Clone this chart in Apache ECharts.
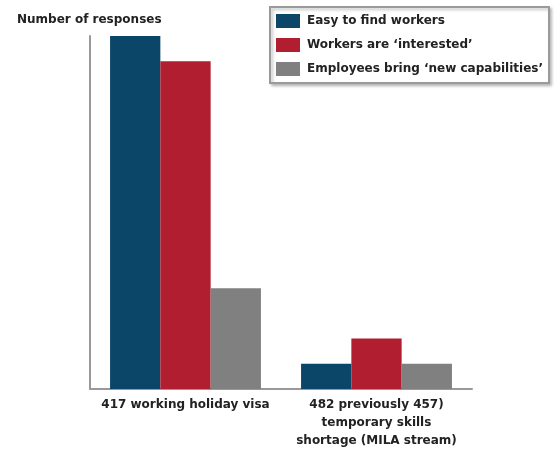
<!DOCTYPE html>
<html>
<head>
<meta charset="utf-8">
<script src="https://cdn.jsdelivr.net/npm/echarts@6/dist/echarts.min.js"></script>
<style>
  html, body { margin: 0; padding: 0; background: #fff; }
  #chart { width: 554px; height: 450px; }
</style>
</head>
<body>
<div id="chart"></div>
<script>
// Visa categories along the horizontal axis
const categories = [
  '417 working holiday visa',
  '482 previously 457)\ntemporary skills\nshortage (MILA stream)'
];
// Number of responses per reason
const easyToFind = [140, 10];
const interested = [130, 20];
const newCapabilities = [40, 10];

const seriesNames = [
  'Easy to find workers',
  'Workers are \u2018interested\u2019',
  'Employees bring \u2018new capabilities\u2019'
];

const FONT = '"DejaVu Sans", sans-serif';
const chart = echarts.init(document.getElementById('chart'), null, { renderer: 'canvas' });

chart.setOption({
  animation: false,
  backgroundColor: '#ffffff',
  title: {
    text: 'Number of responses',
    left: 12,
    top: 9,
    textStyle: { fontFamily: FONT, fontSize: 12, fontWeight: 'bold', color: '#222' }
  },
  legend: {
    orient: 'vertical',
    left: 270,
    top: 7,
    padding: [7, 6, 7, 6],
    itemWidth: 24,
    itemHeight: 14,
    itemGap: 10,
    borderColor: '#9a9a9a',
    borderWidth: 2,
    backgroundColor: '#fff',
    shadowColor: 'rgba(0,0,0,0.25)',
    shadowBlur: 3,
    shadowOffsetX: 2,
    shadowOffsetY: 2,
    icon: 'rect',
    textStyle: { fontFamily: FONT, fontSize: 12, fontWeight: 'bold', color: '#222', padding: [0, 0, 0, 2] },
    data: seriesNames
  },
  grid: { left: 90, right: 82, top: 36, bottom: 58 },
  xAxis: {
    type: 'category',
    data: categories,
    axisLine: { lineStyle: { color: '#999', width: 2 } },
    axisTick: { show: false },
    axisLabel: {
      interval: 0,
      margin: 7,
      lineHeight: 18,
      fontFamily: FONT,
      fontSize: 12,
      fontWeight: 'bold',
      color: '#222'
    }
  },
  yAxis: {
    type: 'value',
    min: 0,
    max: 140,
    axisLine: { show: true, lineStyle: { color: '#999', width: 2 } },
    axisTick: { show: false },
    axisLabel: { show: false },
    splitLine: { show: false }
  },
  series: [
    {
      name: seriesNames[0], type: 'bar', data: easyToFind,
      barGap: '0%', barCategoryGap: '21%',
      itemStyle: { color: '#0b4669' }
    },
    {
      name: seriesNames[1], type: 'bar', data: interested,
      barGap: '0%', barCategoryGap: '21%',
      itemStyle: { color: '#b01e30' }
    },
    {
      name: seriesNames[2], type: 'bar', data: newCapabilities,
      barGap: '0%', barCategoryGap: '21%',
      itemStyle: { color: '#808080' }
    }
  ]
});
</script>
</body>
</html>
